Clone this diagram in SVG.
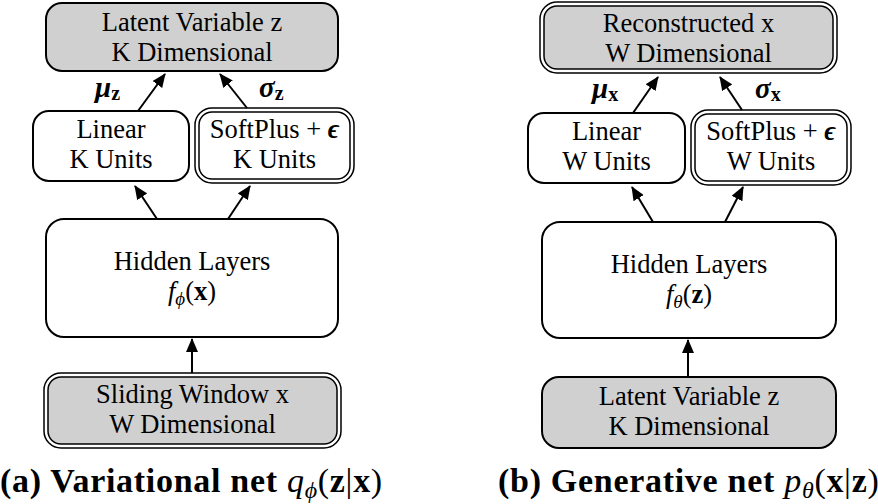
<svg xmlns="http://www.w3.org/2000/svg" width="878" height="504" viewBox="0 0 878 504">
<style>
.box{fill:#ffffff;stroke:#000;stroke-width:2}
.gray{fill:#d0d0d0;stroke:#000;stroke-width:2}
.dbl-o{fill:#ffffff;stroke:#000;stroke-width:1.5}
.dbl-i{fill:#ffffff;stroke:#000;stroke-width:1.5}
.dbl-og{fill:#ffffff;stroke:#000;stroke-width:1.5}
.dbl-ig{fill:#d0d0d0;stroke:#000;stroke-width:1.5}
.t{font-family:"Liberation Serif","Times New Roman",serif;font-size:26.5px;fill:#000;text-anchor:middle}
.lbl{font-family:"Liberation Serif","Times New Roman",serif;font-size:29px;fill:#000;font-weight:bold}
.cap{font-family:"Liberation Serif","Times New Roman",serif;font-size:34px;fill:#000;font-weight:bold;letter-spacing:0.7px}
.conn line{stroke:#000;stroke-width:2;marker-end:url(#ah)}
</style>
<defs>
<marker id="ah" markerUnits="userSpaceOnUse" markerWidth="14" markerHeight="12" refX="13" refY="6" orient="auto">
<path d="M0,0 L14,6 L0,12 z" fill="#000"/>
</marker>
</defs>

<!-- Left panel -->
<g id="a-latent">
<rect class="gray" x="46" y="3" width="292" height="68" rx="16"/>
<text class="t" x="192" y="31">Latent Variable z</text>
<text class="t" x="192" y="61">K Dimensional</text>
</g>
<g id="a-linear">
<rect class="box" x="33" y="111" width="156" height="70" rx="16"/>
<text class="t" x="111" y="138">Linear</text>
<text class="t" x="111" y="168">K Units</text>
</g>
<g id="a-softplus">
<rect class="dbl-o" x="195" y="108" width="159" height="75" rx="17"/>
<rect class="dbl-i" x="199" y="112" width="151" height="67" rx="13"/>
<text class="t" x="274.5" y="138">SoftPlus + <tspan font-style="italic" font-weight="bold">ϵ</tspan></text>
<text class="t" x="274.5" y="168">K Units</text>
</g>
<g id="a-hidden">
<rect class="box" x="46" y="219" width="292" height="118" rx="18"/>
<text class="t" x="192" y="270">Hidden Layers</text>
<text class="t" x="192" y="300" font-size="28"><tspan font-style="italic">f</tspan><tspan font-style="italic" font-size="19" dy="5">ϕ</tspan><tspan dy="-5">(</tspan><tspan font-weight="bold">x</tspan>)</text>
</g>
<g id="a-sliding">
<rect class="dbl-og" x="44" y="373" width="297" height="75" rx="17"/>
<rect class="dbl-ig" x="48" y="377" width="289" height="67" rx="13"/>
<text class="t" x="192.5" y="403">Sliding Window x</text>
<text class="t" x="192.5" y="433">W Dimensional</text>
</g>

<!-- Right panel -->
<g id="b-recon">
<rect class="dbl-og" x="540" y="2" width="297" height="71" rx="17"/>
<rect class="dbl-ig" x="544" y="6" width="289" height="63" rx="13"/>
<text class="t" x="688.5" y="32">Reconstructed x</text>
<text class="t" x="688.5" y="62">W Dimensional</text>
</g>
<g id="b-linear">
<rect class="box" x="528" y="113" width="157" height="70" rx="16"/>
<text class="t" x="606.5" y="140">Linear</text>
<text class="t" x="606.5" y="170">W Units</text>
</g>
<g id="b-softplus">
<rect class="dbl-o" x="691" y="110" width="160" height="75" rx="17"/>
<rect class="dbl-i" x="695" y="114" width="152" height="67" rx="13"/>
<text class="t" x="771" y="140">SoftPlus + <tspan font-style="italic" font-weight="bold">ϵ</tspan></text>
<text class="t" x="771" y="170">W Units</text>
</g>
<g id="b-hidden">
<rect class="box" x="542" y="222" width="294" height="116" rx="18"/>
<text class="t" x="689" y="273">Hidden Layers</text>
<text class="t" x="689" y="303" font-size="28"><tspan font-style="italic">f</tspan><tspan font-style="italic" font-size="19" dy="5">θ</tspan><tspan dy="-5">(</tspan><tspan font-weight="bold">z</tspan>)</text>
</g>
<g id="b-latent">
<rect class="gray" x="542" y="377" width="294" height="71" rx="17"/>
<text class="t" x="689" y="405">Latent Variable z</text>
<text class="t" x="689" y="435">K Dimensional</text>
</g>

<!-- Connectors -->
<g id="connectors" class="conn">
<line x1="192" y1="373" x2="192" y2="339"/>
<line x1="157" y1="219" x2="135" y2="186"/>
<line x1="228" y1="219" x2="250" y2="186"/>
<line x1="138" y1="111" x2="165" y2="74"/>
<line x1="247" y1="108" x2="220" y2="74"/>
<line x1="688" y1="377" x2="688" y2="340"/>
<line x1="653" y1="222" x2="632" y2="187"/>
<line x1="725" y1="222" x2="743" y2="187"/>
<line x1="633" y1="113" x2="658" y2="77"/>
<line x1="742" y1="110" x2="720" y2="77"/>
</g>

<!-- Edge labels -->
<g id="labels">
<text class="lbl" x="95" y="97"><tspan font-style="italic">μ</tspan><tspan font-size="20" dy="3">z</tspan></text>
<text class="lbl" x="259" y="97"><tspan font-style="italic">σ</tspan><tspan font-size="20" dy="3">z</tspan></text>
<text class="lbl" x="592" y="98"><tspan font-style="italic">μ</tspan><tspan font-size="20" dy="3">x</tspan></text>
<text class="lbl" x="755" y="98"><tspan font-style="italic">σ</tspan><tspan font-size="20" dy="3">x</tspan></text>
</g>

<!-- Captions -->
<g id="captions">
<text class="cap" x="0" y="492">(a) Variational net <tspan font-weight="normal" font-style="italic">q</tspan><tspan font-weight="normal" font-style="italic" font-size="24" dy="6">ϕ</tspan><tspan font-weight="normal" dy="-6">(</tspan>z<tspan font-weight="normal">|</tspan>x<tspan font-weight="normal">)</tspan></text>
<text class="cap" x="498" y="492">(b) Generative net <tspan font-weight="normal" font-style="italic">p</tspan><tspan font-weight="normal" font-style="italic" font-size="24" dy="6">θ</tspan><tspan font-weight="normal" dy="-6">(</tspan>x<tspan font-weight="normal">|</tspan>z<tspan font-weight="normal">)</tspan></text>
</g>
</svg>
